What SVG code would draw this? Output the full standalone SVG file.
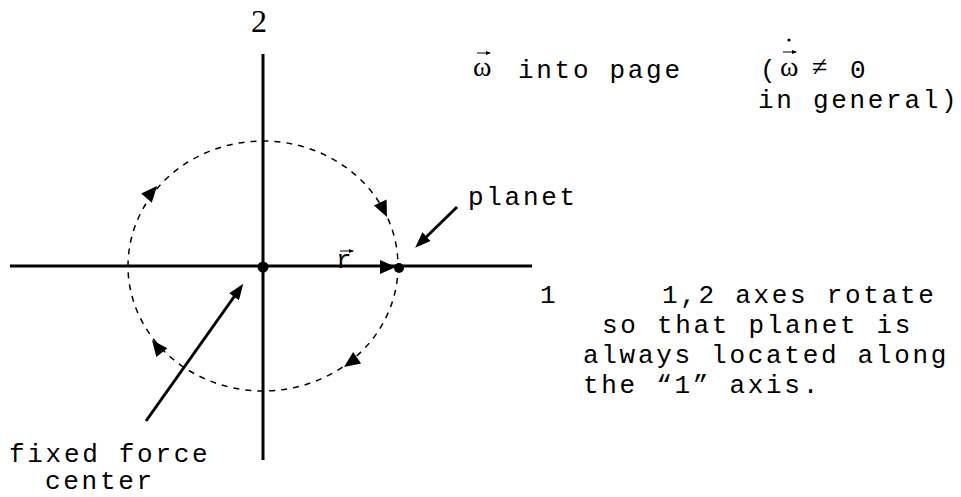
<svg xmlns="http://www.w3.org/2000/svg" width="961" height="497" viewBox="0 0 961 497">
<style>
.mono{font-family:"Liberation Mono","Courier New",monospace;font-size:26px;letter-spacing:2.7px;fill:#000}
.serif{font-family:"Liberation Serif","Times New Roman",serif;fill:#000}
.axis{stroke:#000;stroke-width:3;fill:none}
.lead{stroke:#000;stroke-width:3;fill:none;marker-end:url(#ah)}
.orbit{stroke:#000;stroke-width:1.5;fill:none;stroke-dasharray:6 6}
.vec{stroke:#000;stroke-width:1;fill:none;marker-end:url(#sm)}
</style>
<defs>
<marker id="ah" viewBox="0 0 16 12" refX="12" refY="6" markerWidth="16" markerHeight="12" markerUnits="userSpaceOnUse" orient="auto">
<path d="M0,0 L16,6 L0,12 Z" fill="#000"/>
</marker>
<marker id="sm" viewBox="0 0 5 4" refX="4" refY="2" markerWidth="5" markerHeight="4" markerUnits="userSpaceOnUse" orient="auto">
<path d="M0,0 L5,2 L0,4 Z" fill="#000"/>
</marker>
<path id="tri" d="M0,0 L-16,-7 L-16,7 Z" fill="#000"/>
</defs>
<rect width="961" height="497" fill="#fff"/>

<g id="axes">
<line class="axis" x1="10" y1="266" x2="532" y2="266"/>
<line class="axis" x1="263" y1="54" x2="263" y2="460"/>
<text class="serif" x="251" y="32" font-size="32">2</text>
<text class="mono" x="540" y="303">1</text>
</g>

<g id="connectors">
<ellipse class="orbit" cx="263" cy="266" rx="135" ry="125"/>
<use href="#tri" transform="translate(157,186) rotate(-49)"/>
<use href="#tri" transform="translate(387,217) rotate(65)"/>
<use href="#tri" transform="translate(344,367) rotate(145)"/>
<use href="#tri" transform="translate(152,340) rotate(-128)"/>
<use href="#tri" transform="translate(396,267)"/>
<line class="lead" x1="457" y1="207" x2="418" y2="245"/>
<line class="lead" x1="146" y1="421" x2="241" y2="287"/>
</g>

<g id="center">
<circle cx="263" cy="267" r="5.5" fill="#000"/>
</g>

<g id="planet">
<circle cx="399" cy="268" r="5" fill="#000"/>
<text class="mono" x="468" y="205">planet</text>
</g>

<g id="r-vector">
<text class="mono" x="336" y="268">r</text>
<line class="vec" x1="340" y1="251" x2="353" y2="251"/>
</g>

<g id="fixed-label">
<text class="mono" x="9" y="462">fixed force</text>
<text class="mono" x="45" y="489">center</text>
</g>

<g id="omega-label">
<text class="serif" x="473" y="76" font-size="28">ω</text>
<line class="vec" x1="477" y1="53" x2="490" y2="53"/>
<text class="mono" x="518" y="78">into page</text>
</g>

<g id="omegadot-label">
<text class="mono" x="760" y="78">(</text>
<text class="serif" x="780" y="76" font-size="28">ω</text>
<circle cx="789" cy="40" r="1.6" fill="#000"/>
<line class="vec" x1="783" y1="52" x2="796" y2="52"/>
<text class="serif" x="812" y="76" font-size="28">≠</text>
<text class="mono" x="850" y="78">0</text>
<text class="mono" x="758" y="108">in general)</text>
</g>

<g id="note">
<text class="mono" x="662" y="303">1,2 axes rotate</text>
<text class="mono" x="602" y="333">so that planet is</text>
<text class="mono" x="583" y="363">always located along</text>
<text class="mono" x="583" y="393">the “1” axis.</text>
</g>
</svg>
